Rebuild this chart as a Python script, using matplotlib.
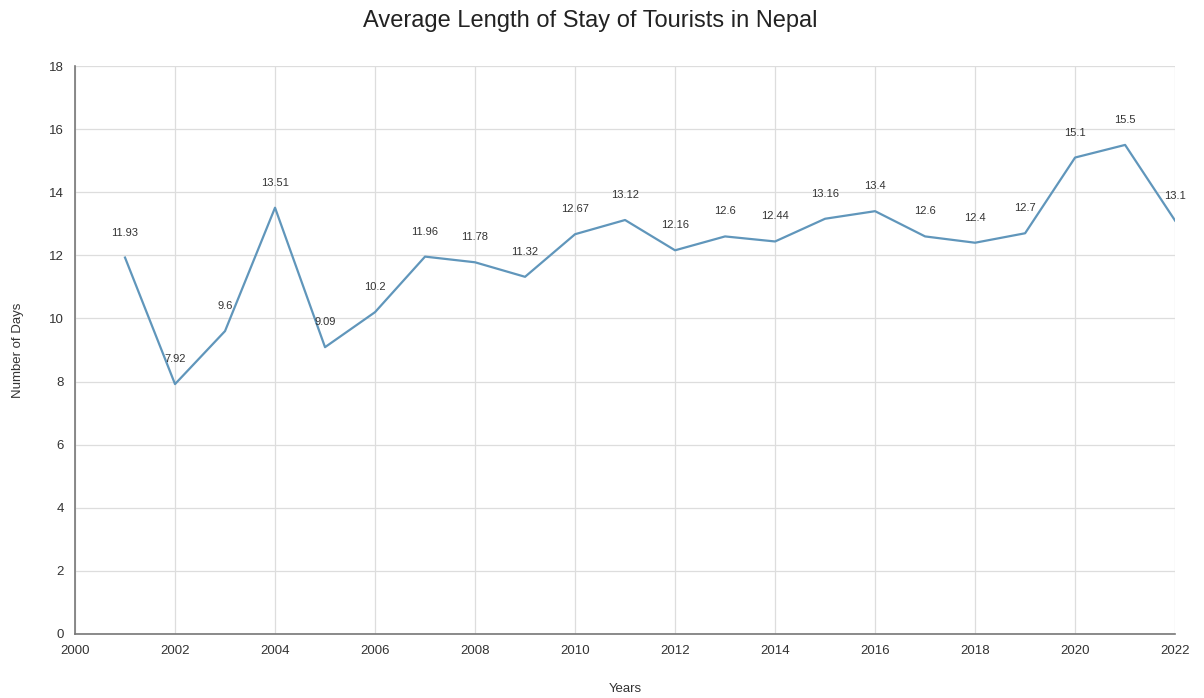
import matplotlib
matplotlib.use("Agg")
import matplotlib.pyplot as plt

years = [2001, 2002, 2003, 2004, 2005, 2006, 2007, 2008, 2009, 2010, 2011,
         2012, 2013, 2014, 2015, 2016, 2017, 2018, 2019, 2020, 2021, 2022]
avg_stay = [11.93, 7.92, 9.6, 13.51, 9.09, 10.2, 11.96, 11.78, 11.32, 12.67, 13.12,
            12.16, 12.6, 12.44, 13.16, 13.4, 12.6, 12.4, 12.7, 15.1, 15.5, 13.1]
x_ticks = list(range(2000, 2023, 2))
y_ticks = list(range(0, 19, 2))

plt.rcParams['font.family'] = ['Liberation Sans', 'DejaVu Sans']

fig = plt.figure(figsize=(12.04, 6.98), dpi=100)
ax = fig.add_axes([0.0623, 0.0917, 0.9137, 0.8137])

ax.plot(years, avg_stay, color='#6096bb', linewidth=1.6, zorder=3)
for x, y in zip(years, avg_stay):
    ax.annotate(f"{y:g}", (x, y), xytext=(0, 18), textcoords='offset points',
                ha='center', va='center', fontsize=8, color='#333333')

ax.set_xlim(2000, 2022)
ax.set_ylim(0, 18)
ax.set_xticks(x_ticks)
ax.set_yticks(y_ticks)
ax.grid(True, color='#dddddd', linewidth=0.9)
ax.set_axisbelow(True)
ax.tick_params(length=0, labelsize=9.5, colors='#333333', pad=8)
for side in ('top', 'right'):
    ax.spines[side].set_visible(False)
for side in ('left', 'bottom'):
    ax.spines[side].set_color('#777777')
    ax.spines[side].set_linewidth(1.2)

ax.set_xlabel('Years', fontsize=9.5, color='#333333', labelpad=19)
ax.set_ylabel('Number of Days', fontsize=9.5, color='#333333', labelpad=18)
fig.suptitle('Average Length of Stay of Tourists in Nepal', fontsize=17,
             x=0.49, y=0.986, color='#222222')

fig.savefig('out.png', dpi=100)
